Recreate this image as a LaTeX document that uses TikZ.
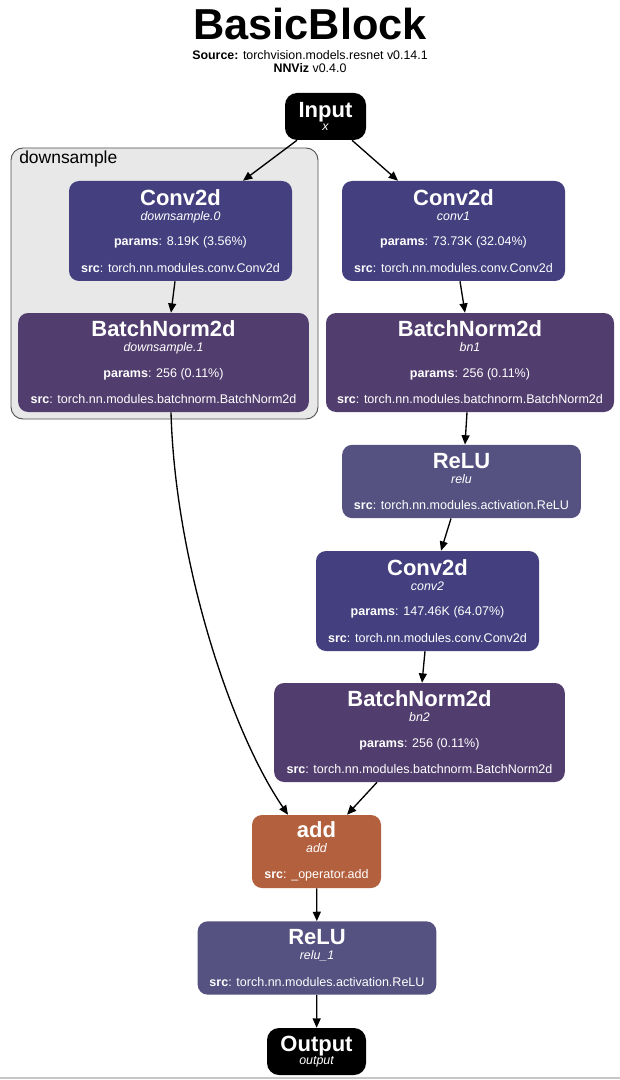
\documentclass[tikz,border=0pt]{standalone}
\usepackage{fontspec}
\setmainfont{Liberation Sans}
\usepackage{tikz}
\usetikzlibrary{arrows.meta}

\definecolor{convcol}{RGB}{68,64,127}
\definecolor{bncol}{RGB}{82,62,110}
\definecolor{relucol}{RGB}{85,81,128}
\definecolor{addcol}{RGB}{178,96,62}
\definecolor{clusterfill}{RGB}{232,232,232}
\definecolor{clusterdraw}{RGB}{80,80,80}

\newcommand{\layertitle}{\fontsize{16.5}{18}\selectfont\bfseries}
\newcommand{\layername}{\fontsize{9.3}{11}\selectfont\itshape}

\begin{document}
\begin{tikzpicture}[x=0.75pt, y=-0.75pt,
  layer/.style={fill=#1, text=white, rounded corners=7.5pt, align=center,
    inner sep=0pt, font=\fontsize{9.4}{11.25}\selectfont},
  convbox/.style={layer=convcol, minimum width=167.25pt, minimum height=75pt},
  bnbox/.style={layer=bncol, minimum width=218pt, minimum height=74.25pt},
  relubox/.style={layer=relucol, minimum width=179pt, minimum height=55pt},
  iobox/.style={fill=black, text=white, rounded corners=9pt, align=center,
    inner sep=0pt, minimum height=35.25pt, font=\fontsize{9}{11.25}\selectfont},
  cluster/.style={draw=clusterdraw, fill=clusterfill, rounded corners=9pt,
    line width=0.7pt},
  arrow/.style={-{Triangle[length=7pt,width=6pt]}, line width=1pt},
]
\fill[white] (0,0) rectangle (620,1080);
\useasboundingbox (0,0) rectangle (620,1080);

% header
\node[anchor=base, inner sep=0pt, font=\fontsize{32.5}{34}\selectfont\bfseries]
  (title) at (310,40) {BasicBlock};
\node[anchor=base, inner sep=0pt, font=\fontsize{9.3}{11}\selectfont]
  (source) at (310,59.5) {\textbf{Source:} torchvision.models.resnet v0.14.1};
\node[anchor=base, inner sep=0pt, font=\fontsize{9.3}{11}\selectfont]
  (version) at (310,72.5) {\textbf{NNViz} v0.4.0};

% downsample branch
\node[cluster, minimum width=230.25pt, minimum height=203.25pt] (ds) at (164.5,283.5) {};
\node[anchor=base west, inner sep=0pt, font=\fontsize{13.1}{15}\selectfont]
  (dslabel) at (19,164) {downsample};

\node[iobox, minimum width=60.75pt] (input) at (325.5,116.5)
  {{\layertitle Input}\\[-1.5pt]{\layername x}};

\node[convbox] (dsconv) at (180.5,231)
  {{\layertitle Conv2d}\\{\layername downsample.0}\\[7.75pt]
   \textbf{params}: 8.19K (3.56\%)\\[8.75pt]
   \textbf{src}: torch.nn.modules.conv.Conv2d};
\node[bnbox] (dsbn) at (163.5,362.5)
  {{\layertitle BatchNorm2d}\\{\layername downsample.1}\\[7.75pt]
   \textbf{params}: 256 (0.11\%)\\[8.75pt]
   \textbf{src}: torch.nn.modules.batchnorm.BatchNorm2d};

% main branch
\node[convbox] (conv1) at (453.5,231)
  {{\layertitle Conv2d}\\{\layername conv1}\\[7.75pt]
   \textbf{params}: 73.73K (32.04\%)\\[8.75pt]
   \textbf{src}: torch.nn.modules.conv.Conv2d};
\node[bnbox, minimum width=216pt] (bn1) at (470,362.5)
  {{\layertitle BatchNorm2d}\\{\layername bn1}\\[7.75pt]
   \textbf{params}: 256 (0.11\%)\\[8.75pt]
   \textbf{src}: torch.nn.modules.batchnorm.BatchNorm2d};
\node[relubox] (relu) at (461.5,481.5)
  {{\layertitle ReLU}\\{\layername relu}\\[8.5pt]
   \textbf{src}: torch.nn.modules.activation.ReLU};
\node[convbox] (conv2) at (427.5,601)
  {{\layertitle Conv2d}\\{\layername conv2}\\[7.75pt]
   \textbf{params}: 147.46K (64.07\%)\\[8.75pt]
   \textbf{src}: torch.nn.modules.conv.Conv2d};
\node[bnbox] (bn2) at (419.5,732.5)
  {{\layertitle BatchNorm2d}\\{\layername bn2}\\[7.75pt]
   \textbf{params}: 256 (0.11\%)\\[8.75pt]
   \textbf{src}: torch.nn.modules.batchnorm.BatchNorm2d};

% merge
\node[layer=addcol, minimum width=96.75pt, minimum height=54.75pt] (add) at (316.5,851.5)
  {{\layertitle add}\\{\layername add}\\[8.5pt]
   \textbf{src}: \_operator.add};
\node[relubox] (relu1) at (317,958)
  {{\layertitle ReLU}\\{\layername relu\_1}\\[8.5pt]
   \textbf{src}: torch.nn.modules.activation.ReLU};
\node[iobox, minimum width=74.25pt] (output) at (316.5,1051.5)
  {{\layertitle Output}\\[-1.5pt]{\layername output}};

% edges
\draw[arrow] ([shift={(-28.5,0)}]input.south) -- ([shift={(62.5,0)}]dsconv.north);
\draw[arrow] ([shift={(26.5,0)}]input.south) -- ([shift={(-55.5,0)}]conv1.north);
\draw[arrow] ([shift={(-5.5,0)}]dsconv.south) -- ([shift={(7.5,0)}]dsbn.north);
\draw[arrow] ([shift={(6.5,0)}]conv1.south) -- ([shift={(-5,0)}]bn1.north);
\draw[arrow] ([shift={(-3,0)}]bn1.south) -- ([shift={(3.5,0)}]relu.north);
\draw[arrow] ([shift={(-10.5,0)}]relu.south) -- ([shift={(13.5,0)}]conv2.north);
\draw[arrow] ([shift={(-2.5,0)}]conv2.south) -- ([shift={(2.5,0)}]bn2.north);
\draw[arrow] ([shift={(7.5,0)}]dsbn.south) .. controls +(4,148) and +(-58,-85)
  .. ([shift={(-28.5,0)}]add.north);
\draw[arrow] ([shift={(-42.5,0)}]bn2.south) -- ([shift={(30.5,0)}]add.north);
\draw[arrow] (add) -- (relu1);
\draw[arrow] (relu1) -- (output);

\draw[gray!45, line width=1.2pt] (0,1078) -- (620,1078);
\end{tikzpicture}
\end{document}
